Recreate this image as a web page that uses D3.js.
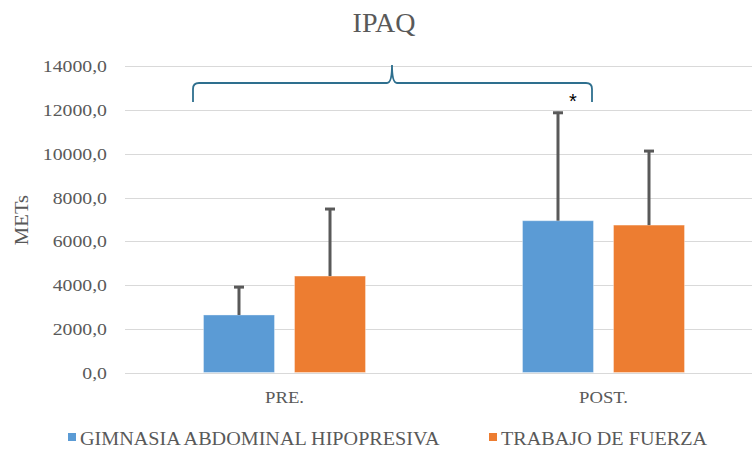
<!DOCTYPE html>
<html>
<head>
<meta charset="utf-8">
<script src="https://cdn.jsdelivr.net/npm/d3@7"></script>
<style>
  html, body { margin: 0; padding: 0; background: #fff; }
  svg { display: block; }
</style>
</head>
<body>
<script>
// Mean METs per group and the upper standard deviation drawn as error bars
const categories = ["PRE.", "POST."];
const seriesNames = ["GIMNASIA ABDOMINAL HIPOPRESIVA", "TRABAJO DE FUERZA"];
const hipopresiva = [2630, 6940];
const hipopresivaSD = [1320, 4980];
const fuerza = [4410, 6740];
const fuerzaSD = [3110, 3430];
const yTicks = [0, 2000, 4000, 6000, 8000, 10000, 12000, 14000];
const colors = ["#5b9bd5", "#ed7d31"];

const SERIF = '"Liberation Serif"';
const TEXT = "#595959";
const W = 752, H = 450;
const svg = d3.select("body").append("svg").attr("width", W).attr("height", H);

const y = d3.scaleLinear().domain([0, 14000]).range([372.5, 66.3]);
const x0 = d3.scaleBand().domain(categories).range([125, 763]).paddingInner(0).paddingOuter(0);
const x1 = d3.scaleBand().domain(seriesNames).range([-81, 81]).paddingInner(0.22);

const fmt = v => d3.format(".1f")(v).replace(".", ",");

// gridlines
svg.append("g").selectAll("line").data(yTicks).join("line")
  .attr("x1", 125).attr("x2", W)
  .attr("y1", d => Math.round(y(d)) + 0.5).attr("y2", d => Math.round(y(d)) + 0.5)
  .attr("stroke", "#d9d9d9").attr("stroke-width", 1.2);

// y axis labels (slightly widened glyphs)
const yAxis = d3.axisLeft(y).tickValues(yTicks).tickFormat(fmt).tickSize(0).tickPadding(0);
const gy = svg.append("g").attr("transform", "translate(107,0)").call(yAxis);
gy.attr("font-family", null).attr("font-size", null);
gy.select(".domain").remove();
gy.selectAll("text")
  .attr("x", 0)
  .attr("transform", "scale(1.13,1)")
  .style("font-family", SERIF).style("font-size", "17.5px")
  .attr("fill", TEXT);

// x axis labels
const xAxis = d3.axisBottom(x0).tickSize(0).tickPadding(0);
const gx = svg.append("g").attr("transform", "translate(0,391)").call(xAxis);
gx.attr("font-family", null).attr("font-size", null);
gx.select(".domain").remove();
gx.selectAll("text")
  .attr("transform", "scale(1.1,1)")
  .style("font-family", SERIF).style("font-size", "17px")
  .attr("fill", TEXT);

// bars
const rows = categories.map((c, i) => ({
  cat: c,
  vals: [
    { s: seriesNames[0], v: hipopresiva[i], sd: hipopresivaSD[i], c: colors[0] },
    { s: seriesNames[1], v: fuerza[i], sd: fuerzaSD[i], c: colors[1] }
  ]
}));

const groups = svg.append("g").selectAll("g").data(rows).join("g")
  .attr("transform", d => `translate(${x0(d.cat) + x0.bandwidth() / 2},0)`);

groups.selectAll("rect").data(d => d.vals).join("rect")
  .attr("x", d => x1(d.s))
  .attr("width", x1.bandwidth())
  .attr("y", d => y(d.v))
  .attr("height", d => y(0) - y(d.v))
  .attr("fill", d => d.c)
  .attr("stroke", "#ffffff").attr("stroke-opacity", 0.35).attr("stroke-width", 1);

// error bars (upper only)
const eb = groups.selectAll("g.err").data(d => d.vals).join("g").attr("class", "err");
eb.append("line")
  .attr("x1", d => x1(d.s) + x1.bandwidth() / 2)
  .attr("x2", d => x1(d.s) + x1.bandwidth() / 2)
  .attr("y1", d => y(d.v))
  .attr("y2", d => y(d.v + d.sd))
  .attr("stroke", "#595959").attr("stroke-width", 3);
eb.append("line")
  .attr("x1", d => x1(d.s) + x1.bandwidth() / 2 - 5)
  .attr("x2", d => x1(d.s) + x1.bandwidth() / 2 + 5)
  .attr("y1", d => y(d.v + d.sd) + 1)
  .attr("y2", d => y(d.v + d.sd) + 1)
  .attr("stroke", "#595959").attr("stroke-width", 3);

// curly brace spanning the groups, with significance mark
const bx1 = 193, bx2 = 592, by = 83, bmid = (bx1 + bx2) / 2 - 0.5;
const brace = `M${bx1},102 L${bx1},${by + 6} Q${bx1},${by} ${bx1 + 6},${by} ` +
  `L${bmid - 5},${by} Q${bmid},${by} ${bmid},65 Q${bmid},${by} ${bmid + 5},${by} ` +
  `L${bx2 - 6},${by} Q${bx2},${by} ${bx2},${by + 6} L${bx2},102`;
svg.append("path").attr("d", brace)
  .attr("fill", "none").attr("stroke", "#2e6f8e").attr("stroke-width", 1.8);
svg.append("text").attr("x", 573).attr("y", 108).attr("text-anchor", "middle")
  .style("font-family", '"Liberation Sans"')
  .style("font-size", "20px").attr("fill", "#000").text("*");

// title
svg.append("text").attr("x", 384).attr("y", 32).attr("text-anchor", "middle")
  .style("font-family", SERIF).style("font-size", "28px")
  .attr("fill", TEXT).text("IPAQ");

// y axis title
svg.append("text").attr("transform", "translate(28,220) rotate(-90) scale(1.15,1)")
  .attr("text-anchor", "middle")
  .style("font-family", SERIF).style("font-size", "18px")
  .attr("fill", TEXT).text("METs");

// legend
const legend = svg.append("g");
const legendX = [68, 489];
seriesNames.forEach((s, i) => {
  legend.append("rect").attr("x", legendX[i]).attr("y", 433).attr("width", 8).attr("height", 8)
    .attr("fill", colors[i]);
  legend.append("text")
    .attr("transform", `translate(${legendX[i] + 12},445) scale(1.12,1)`)
    .style("font-family", SERIF).style("font-size", "18px")
    .attr("fill", TEXT).text(s);
});
</script>
</body>
</html>
